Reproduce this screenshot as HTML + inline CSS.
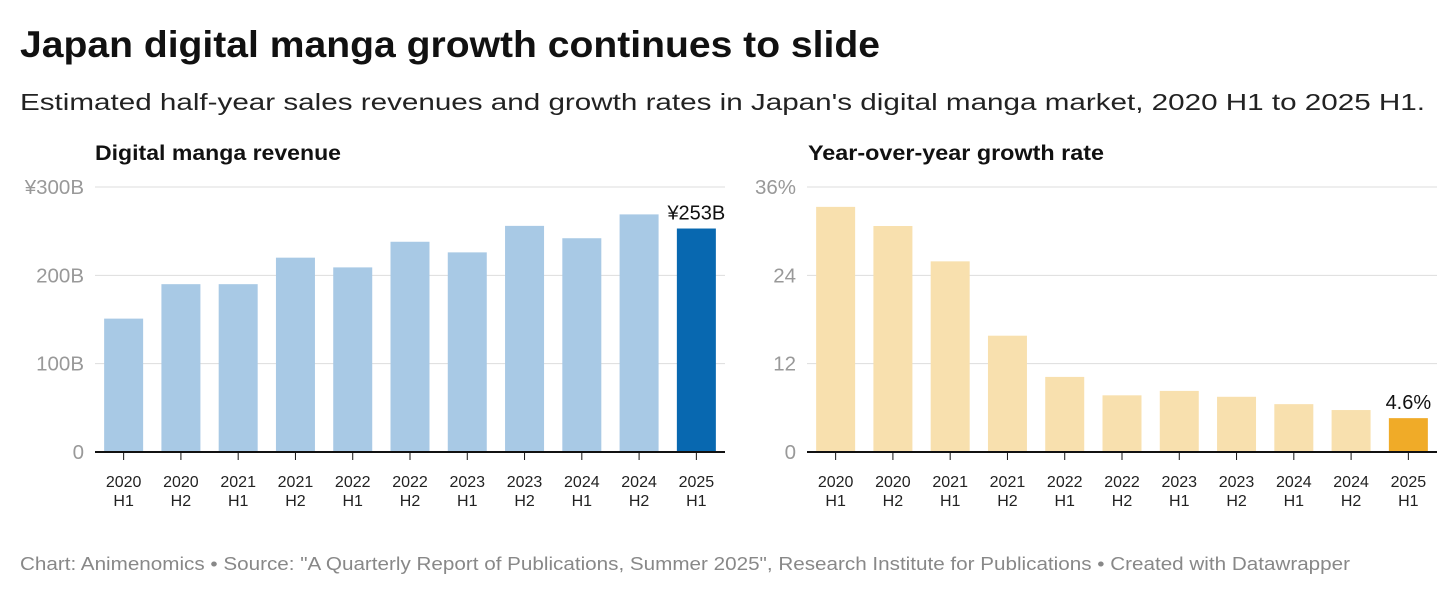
<!DOCTYPE html>
<html><head><meta charset="utf-8"><style>
body{margin:0;background:#fff;width:1456px;height:596px;overflow:hidden;font-family:"Liberation Sans",Arial,sans-serif;}
</style></head><body>
<svg width="1456" height="596" xmlns="http://www.w3.org/2000/svg" font-family="Liberation Sans, Arial, sans-serif">
<text x="20" y="57" font-size="37" font-weight="bold" fill="#111" textLength="860" lengthAdjust="spacingAndGlyphs">Japan digital manga growth continues to slide</text>
<text x="20" y="110" font-size="23" fill="#222" textLength="1405" lengthAdjust="spacingAndGlyphs">Estimated half-year sales revenues and growth rates in Japan's digital manga market, 2020 H1 to 2025 H1.</text>
<text x="95" y="160" font-size="21" font-weight="bold" fill="#111" textLength="246" lengthAdjust="spacingAndGlyphs">Digital manga revenue</text>
<text x="808" y="160" font-size="21" font-weight="bold" fill="#111" textLength="296" lengthAdjust="spacingAndGlyphs">Year-over-year growth rate</text>
<g id="left"></g>
<g id="right"></g>
<text x="20" y="570" font-size="18" fill="#888" textLength="1330" lengthAdjust="spacingAndGlyphs">Chart: Animenomics • Source: "A Quarterly Report of Publications, Summer 2025", Research Institute for Publications • Created with Datawrapper</text>
</svg>
<script>
const categories=["2020 H1","2020 H2","2021 H1","2021 H2","2022 H1","2022 H2","2023 H1","2023 H2","2024 H1","2024 H2","2025 H1"];
const revenue=[151,190,190,220,209,238,226,256,242,269,253];
const growth=[33.3,30.7,25.9,15.8,10.2,7.7,8.3,7.5,6.5,5.7,4.6];
const revTicks=[0,100,200,300];
const revTickLabels=["0","100B","200B","¥300B"];
const growthTicks=[0,12,24,36];
const growthTickLabels=["0","12","24","36%"];
const NS="http://www.w3.org/2000/svg";
function mk(p,t,a){const e=document.createElementNS(NS,t);for(const k in a)e.setAttribute(k,a[k]);p.appendChild(e);return e;}
function draw(g,vals,ticks,tlabels,max,x0,x1,labelX,light,dark,lastLabel){
  const y0=452,yTop=187;
  const y=v=>y0-(v/max)*(y0-yTop);
  const step=(x1-x0)/vals.length, bw=39;
  ticks.forEach((t,i)=>{
    if(t>0){const l=mk(g,'line',{x1:x0,x2:x1,y1:y(t),y2:y(t),stroke:'#ddd','stroke-width':1});
    
    }
    const tx=mk(g,'text',{x:labelX,y:y(t)+7,'font-size':20.5,fill:'#999','text-anchor':'end'});
    tx.textContent=tlabels[i];
    
    
  });
  vals.forEach((v,i)=>{
    const cx=x0+step*(i+0.5);
    const last=i===vals.length-1;
    const r=mk(g,'rect',{x:cx-bw/2,y:y(v),width:bw,height:y0-y(v)-1,fill:last?dark:light});
    
    
    const tk=mk(g,'line',{x1:cx,x2:cx,y1:y0,y2:y0+8,stroke:'#111','stroke-width':1});
    
    
    const parts=categories[i].split(' ');
    const t1=mk(g,'text',{x:cx,y:487,'font-size':16,fill:'#222','text-anchor':'middle'});t1.textContent=parts[0];
    
    
    const t2=mk(g,'text',{x:cx,y:506,'font-size':16,fill:'#222','text-anchor':'middle'});t2.textContent=parts[1];
    
    
    if(last){const vl=mk(g,'text',{x:cx,y:y(v)-9,'font-size':20,fill:'#111','text-anchor':'middle'});vl.textContent=lastLabel(v);
    
    }
  });
  const ax=mk(g,'line',{x1:x0,x2:x1,y1:y0,y2:y0,stroke:'#111','stroke-width':2});
  
  
}
draw(document.getElementById('left'),revenue,revTicks,revTickLabels,300,95,725,84,'#a8c9e5','#0868b0',v=>'¥'+v+'B');
draw(document.getElementById('right'),growth,growthTicks,growthTickLabels,36,807,1437,796,'#f8e0ae','#f0ab28',v=>v+'%');
</script>
</body></html>
